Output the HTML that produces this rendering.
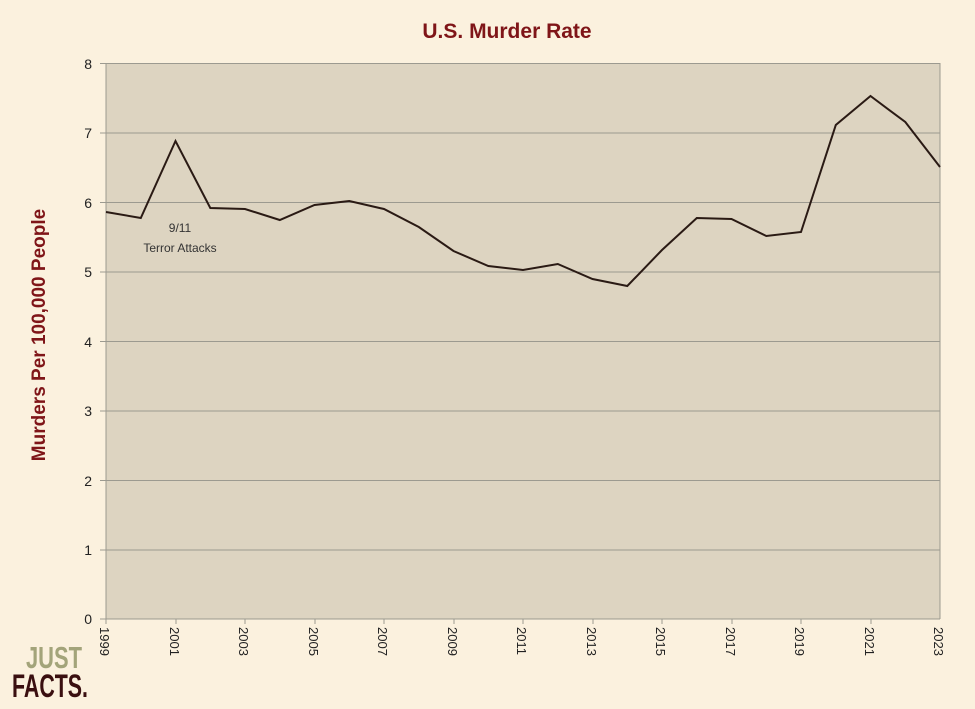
<!DOCTYPE html>
<html><head><style>
body{margin:0;width:975px;height:704px;background:#fbf1de;overflow:hidden;font-family:"Liberation Sans",sans-serif}
</style></head><body>
<svg width="975" height="704" xmlns="http://www.w3.org/2000/svg">
<rect x="0" y="0" width="975" height="704" fill="#fbf1de"/>
<text x="507" y="38" text-anchor="middle" font-size="21" font-weight="bold" fill="#7f1518">U.S. Murder Rate</text>
<rect x="106" y="63" width="834" height="556" fill="#ddd4c1"/>
<g stroke="#9c9a90" stroke-width="1">
<line x1="100" x2="940" y1="63.5" y2="63.5"/><line x1="100" x2="940" y1="133" y2="133"/>
<line x1="100" x2="940" y1="202.5" y2="202.5"/><line x1="100" x2="940" y1="272" y2="272"/>
<line x1="100" x2="940" y1="341.5" y2="341.5"/><line x1="100" x2="940" y1="411" y2="411"/>
<line x1="100" x2="940" y1="480.5" y2="480.5"/><line x1="100" x2="940" y1="550" y2="550"/>
<line x1="100" x2="940" y1="619" y2="619"/>
<line x1="106" x2="106" y1="63" y2="624"/><line x1="940" x2="940" y1="63" y2="619"/>
<line x1="176" x2="176" y1="619" y2="624"/><line x1="245" x2="245" y1="619" y2="624"/>
<line x1="315" x2="315" y1="619" y2="624"/><line x1="384" x2="384" y1="619" y2="624"/>
<line x1="454" x2="454" y1="619" y2="624"/><line x1="523" x2="523" y1="619" y2="624"/>
<line x1="593" x2="593" y1="619" y2="624"/><line x1="662" x2="662" y1="619" y2="624"/>
<line x1="732" x2="732" y1="619" y2="624"/><line x1="801" x2="801" y1="619" y2="624"/>
<line x1="871" x2="871" y1="619" y2="624"/>
</g>
<g font-size="14" fill="#222" text-anchor="end">
<text x="92" y="69">8</text><text x="92" y="138">7</text><text x="92" y="208">6</text>
<text x="92" y="277">5</text><text x="92" y="347">4</text><text x="92" y="416">3</text>
<text x="92" y="486">2</text><text x="92" y="555">1</text><text x="92" y="624">0</text>
</g>
<g font-size="13" fill="#222">
<text transform="translate(100,627) rotate(90)">1999</text>
<text transform="translate(170,627) rotate(90)">2001</text>
<text transform="translate(239,627) rotate(90)">2003</text>
<text transform="translate(309,627) rotate(90)">2005</text>
<text transform="translate(378,627) rotate(90)">2007</text>
<text transform="translate(448,627) rotate(90)">2009</text>
<text transform="translate(517,627) rotate(90)">2011</text>
<text transform="translate(587,627) rotate(90)">2013</text>
<text transform="translate(656,627) rotate(90)">2015</text>
<text transform="translate(726,627) rotate(90)">2017</text>
<text transform="translate(795,627) rotate(90)">2019</text>
<text transform="translate(865,627) rotate(90)">2021</text>
<text transform="translate(934,627) rotate(90)">2023</text>
</g>
<text transform="translate(45,335) rotate(-90)" text-anchor="middle" font-size="19" font-weight="bold" fill="#7f1518">Murders Per 100,000 People</text>
<polyline fill="none" stroke="#2a1a14" stroke-width="2" points="106,212 140.8,218 175.5,141 210.3,208 245,209 279.8,220 314.5,205 349.3,201 384,209 418.8,227 453.5,251 488.3,266 523,270 557.8,264 592.5,279 627.3,286 662,250 696.8,218 731.5,219 766.3,236 801,232 835.8,125 870.5,96 905.3,122 940,167"/>
<text x="180" y="232" text-anchor="middle" font-size="12" fill="#333">9/11</text>
<text x="180" y="252" text-anchor="middle" font-size="12" fill="#333">Terror Attacks</text>
<text x="26" y="668" font-size="31" font-weight="bold" fill="#a3a47a" textLength="56" lengthAdjust="spacingAndGlyphs">JUST</text>
<text x="12" y="697" font-size="32" font-weight="bold" fill="#3a0f10" textLength="76" lengthAdjust="spacingAndGlyphs">FACTS.</text>
</svg>
</body></html>
